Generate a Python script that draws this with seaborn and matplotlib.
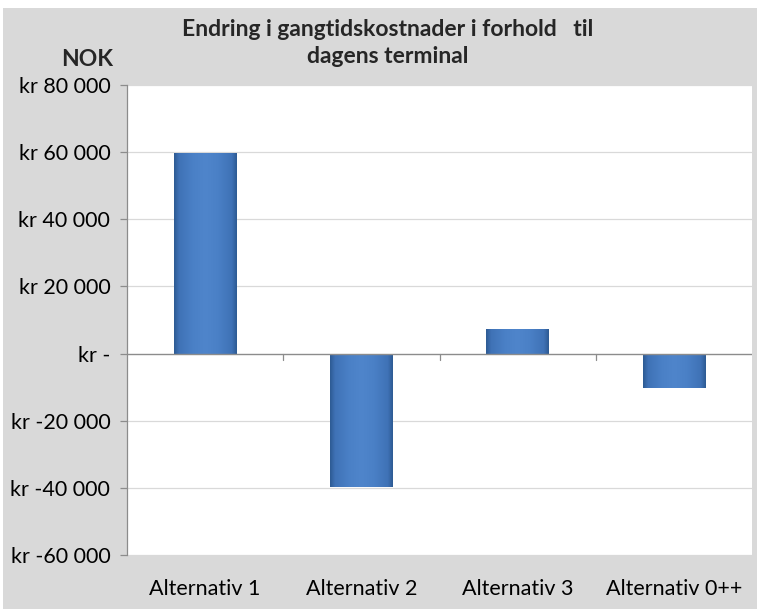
import numpy as np
import pandas as pd
import matplotlib
matplotlib.use("Agg")
import matplotlib.pyplot as plt
import seaborn as sns
from matplotlib.patches import Rectangle
from matplotlib.ticker import FixedLocator, FixedFormatter

categories = ["Alternativ 1", "Alternativ 2", "Alternativ 3", "Alternativ 0++"]
values = [59800, -39700, 7300, -10200]
yticks = [80000, 60000, 40000, 20000, 0, -20000, -40000, -60000]
ytick_labels = ["kr 80 000", "kr 60 000", "kr 40 000", "kr 20 000", "kr -",
                "kr -20 000", "kr -40 000", "kr -60 000"]
title = "Endring i gangtidskostnader i forhold   til\ndagens terminal"
ylabel = "NOK"

sns.set_theme(style="white")
plt.rcParams['font.family'] = ['Lato', 'DejaVu Sans']

W, H = 757, 609
fig = plt.figure(figsize=(W / 100, H / 100), dpi=100, facecolor="white")
bg = Rectangle((3 / W, 0), 1 - 3 / W, 1 - 8 / H, transform=fig.transFigure,
               facecolor="#d9d9d9", edgecolor="none", zorder=-10)
fig.patches.append(bg)

ax = fig.add_axes([127 / W, 1 - 555 / H, (752 - 127) / W, (555 - 85) / H])
ax.set_facecolor("white")

df = pd.DataFrame({"cat": categories, "val": values})
sns.barplot(data=df, x="cat", y="val", ax=ax, width=0.4, color="#4a7ebb",
            edgecolor="none", zorder=3)

# gradient shading on bars
cmap = matplotlib.colors.LinearSegmentedColormap.from_list(
    "bar", [(0.0, "#2d5a93"), (0.08, "#3f72b6"), (0.3, "#4a80c6"),
            (0.5, "#4f85cb"), (0.7, "#4a80c6"), (0.92, "#3f72b6"),
            (1.0, "#2d5a93")])
grad = np.linspace(0, 1, 256).reshape(1, -1)
for p in list(ax.patches):
    x0, y0 = p.get_x(), p.get_y()
    w, h = p.get_width(), p.get_height()
    im = ax.imshow(grad, extent=[x0, x0 + w, min(y0, y0 + h), max(y0, y0 + h)],
                   aspect="auto", cmap=cmap, zorder=4, interpolation="bilinear")
    im.set_clip_path(p)

ax.set_xlim(-0.5, len(categories) - 0.5)
ax.set_ylim(-60000, 80000)

for y in yticks:
    if y != 0:
        ax.axhline(y, color="#d9d9d9", lw=0.9, zorder=1)
ax.axhline(0, color="#8c8c8c", lw=1.0, zorder=5)

ax.yaxis.set_major_locator(FixedLocator(yticks))
ax.yaxis.set_major_formatter(FixedFormatter(ytick_labels))
ax.tick_params(axis="y", which="major", length=5, width=0.9, color="#8c8c8c",
               labelsize=15.5, pad=7, left=True, labelcolor="black")
ax.set_xticks(range(len(categories)))
ax.set_xticklabels(categories, fontsize=15.5)
ax.tick_params(axis="x", length=0, pad=17, labelcolor="black")

# category boundary tick marks on zero line
for b in np.arange(0.5, len(categories) - 0.5, 1.0):
    ax.plot([b, b], [0, -1800], color="#8c8c8c", lw=0.9, zorder=5)

for s in ["top", "right", "bottom"]:
    ax.spines[s].set_visible(False)
ax.spines["left"].set_color("#8c8c8c")
ax.spines["left"].set_linewidth(0.9)

ax.set_xlabel("")
ax.set_ylabel("")

fig.text(388 / W, 1 - 43 / H, title, ha="center", va="center",
         fontsize=16.5, fontweight="bold", linespacing=1.35)
fig.text(113 / W, 1 - 59 / H, ylabel, ha="right", va="center",
         fontsize=16.5, fontweight="bold")

fig.savefig("out.png", dpi=100, facecolor=fig.get_facecolor())
